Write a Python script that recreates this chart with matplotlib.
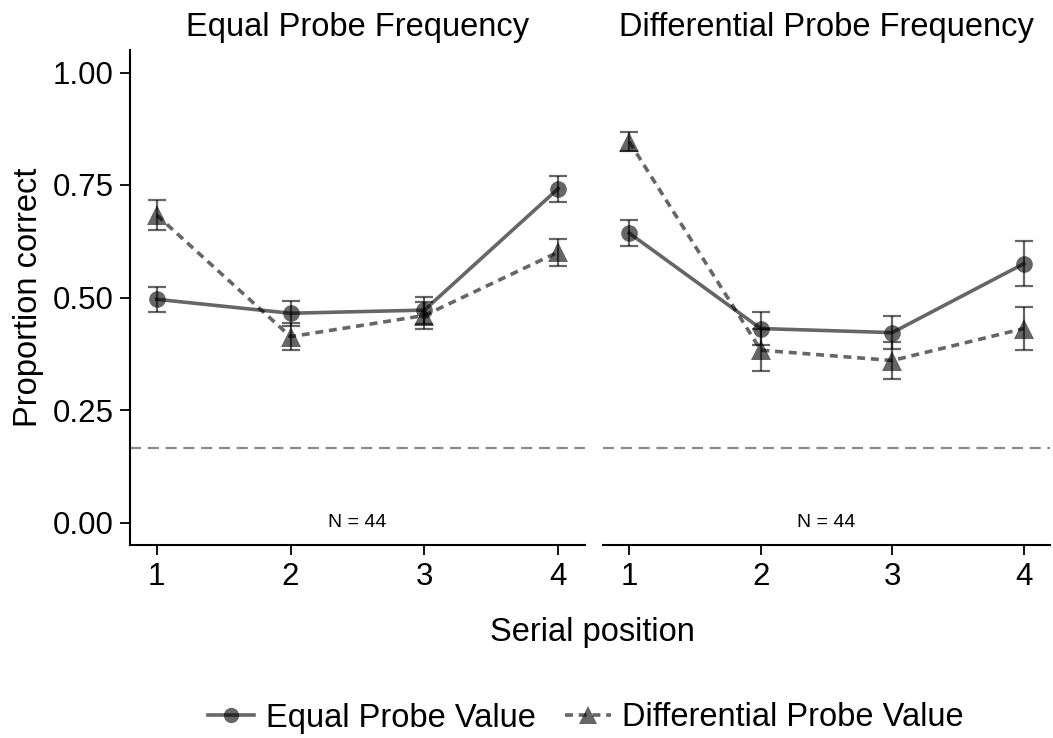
import numpy as np
import matplotlib.pyplot as plt
from matplotlib.lines import Line2D

plt.rcParams['font.family'] = ['Liberation Sans', 'DejaVu Sans']

positions = [1, 2, 3, 4]
panels = ['Equal Probe Frequency', 'Differential Probe Frequency']
series = ['Equal Probe Value', 'Differential Probe Value']

# mean proportion correct, per panel, per series
equal_freq_equal_val = [0.496, 0.465, 0.472, 0.742]
equal_freq_equal_err = [0.028, 0.028, 0.030, 0.029]
equal_freq_diff_val = [0.683, 0.413, 0.460, 0.601]
equal_freq_diff_err = [0.033, 0.030, 0.031, 0.030]
diff_freq_equal_val = [0.643, 0.431, 0.422, 0.575]
diff_freq_equal_err = [0.029, 0.037, 0.036, 0.050]
diff_freq_diff_val = [0.846, 0.383, 0.360, 0.431]
diff_freq_diff_err = [0.021, 0.046, 0.041, 0.047]

chance = 1 / 6
n_label = 'N = 44'

data = [
    [(equal_freq_equal_val, equal_freq_equal_err), (equal_freq_diff_val, equal_freq_diff_err)],
    [(diff_freq_equal_val, diff_freq_equal_err), (diff_freq_diff_val, diff_freq_diff_err)],
]

W, H = 1053, 738
fig = plt.figure(figsize=(W / 100, H / 100), dpi=100)

boxes = [(130, 50, 585, 545), (603, 50, 1050, 545)]
styles = [dict(marker='o', linestyle='-', ms=12), dict(marker='^', linestyle=(0, (2.2, 1.6)), ms=14)]
fs = 23.5

for i, (l, t, r, b) in enumerate(boxes):
    ax = fig.add_axes([l / W, 1 - b / H, (r - l) / W, (b - t) / H])
    for (vals, errs), st in zip(data[i], styles):
        ax.errorbar(positions, vals, yerr=errs, fmt='none', ecolor='black', alpha=0.6,
                    capsize=6.5, capthick=1.6, elinewidth=1.6)
        ax.plot(positions, vals, color='black', alpha=0.6, lw=2.6, linestyle=st['linestyle'])
        ax.plot(positions, vals, color='black', alpha=0.6, lw=0, marker=st['marker'],
                ms=st['ms'], mew=0)
    ax.axhline(chance, color='#8a8a8a', lw=1.6, linestyle=(0, (5, 3)))
    ax.text(2.5, 0.0, n_label, ha='center', va='center', fontsize=14)
    ax.set_xlim(0.8, 4.2)
    ax.set_ylim(-0.05, 1.05)
    ax.set_xticks(positions)
    ax.set_yticks([0, 0.25, 0.5, 0.75, 1.0])
    ax.set_yticklabels(['0.00', '0.25', '0.50', '0.75', '1.00'])
    ax.tick_params(labelsize=22.5, length=7, width=1.3, direction='out', colors='black', pad=5)
    for s in ['top', 'right']:
        ax.spines[s].set_visible(False)
    ax.spines['bottom'].set_linewidth(1.5)
    ax.spines['left'].set_linewidth(1.5)
    ax.set_title(panels[i], fontsize=fs, pad=10)
    if i == 0:
        ax.set_ylabel('Proportion correct', fontsize=fs, labelpad=6)
    else:
        ax.spines['left'].set_visible(False)
        ax.tick_params(axis='y', left=False, labelleft=False)

fig.text(592 / W, 1 - 633 / H, 'Serial position', ha='center', va='center', fontsize=fs)

handles = [Line2D([], [], color='black', alpha=0.6, lw=2.6, marker=st['marker'], ms=st['ms'] - 1,
                  linestyle=st['linestyle'], mew=0) for st in styles]
fig.legend(handles, series, loc='center', bbox_to_anchor=(586 / W, 1 - 718 / H), ncol=2,
           frameon=False, fontsize=fs, handlelength=1.4, columnspacing=0.9, handletextpad=0.35)

fig.savefig('out.png', dpi=100)
